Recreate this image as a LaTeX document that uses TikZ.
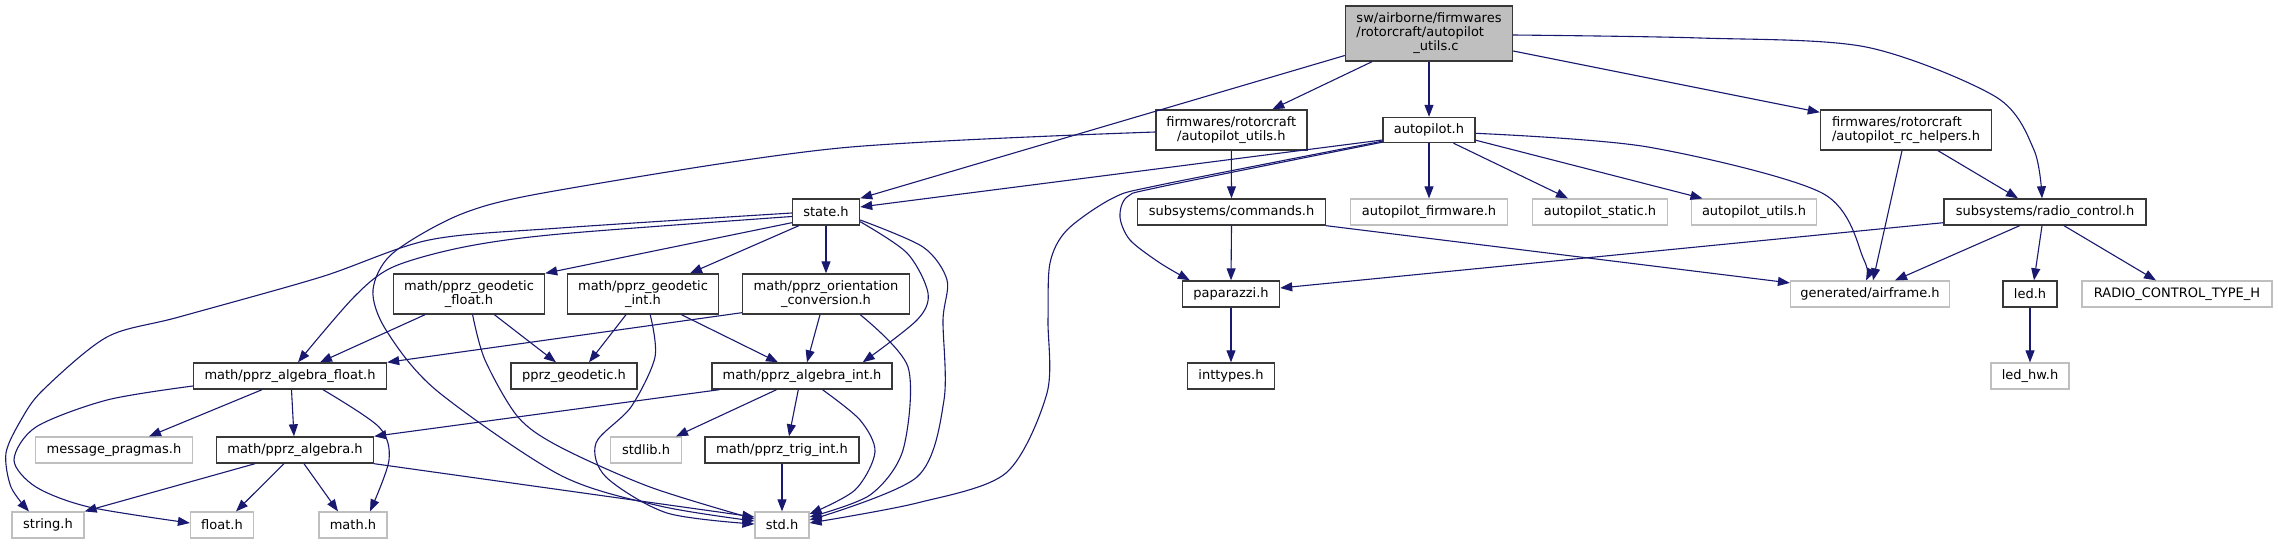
\documentclass[tikz,border=0pt]{standalone}
\usepackage{fontspec}
\setmainfont{DejaVu Sans}
\usetikzlibrary{arrows.meta,calc}
\definecolor{edgec}{HTML}{191970}
\definecolor{nodeb}{HTML}{383838}
\definecolor{greyb}{HTML}{BFBFBF}
\tikzset{
  fnode/.style={draw=nodeb, line width=1.4pt, fill=white, inner sep=0pt,
    minimum height=26pt, font=\fontsize{13}{14}\selectfont, align=center},
  unode/.style={fnode, draw=greyb, line width=1.2pt},
  edge/.style={draw=edgec, line width=1.1pt, -{Triangle[length=12pt,width=9pt]}},
}
\begin{document}
\begin{tikzpicture}[x=1pt,y=-1pt]
\useasboundingbox[fill=white] (0,0) rectangle (2278,544);
% row 0
\node[fnode, fill=greyb, minimum width=167pt, minimum height=55pt, align=left] (root) at (1429,33.5)
  {sw/airborne/firmwares\\/rotorcraft/autopilot\\\hspace*{57pt}\_utils.c};
% row 1
\node[fnode, minimum width=151pt, minimum height=40pt] (fau) at (1231.3,130) {firmwares/rotorcraft\\/autopilot\_utils.h};
\node[fnode, minimum width=92pt, minimum height=25pt] (ap) at (1429,130) {autopilot.h};
\node[fnode, minimum width=171pt, minimum height=40pt, align=left] (rch) at (1906,130) {firmwares/rotorcraft\\/autopilot\_rc\_helpers.h};
% row 2
\node[fnode, minimum width=67pt] (state) at (826,212) {state.h};
\node[fnode, minimum width=188pt] (cmd) at (1231.5,212) {subsystems/commands.h};
\node[unode, minimum width=157pt] (apfw) at (1429,212) {autopilot\_firmware.h};
\node[unode, minimum width=135pt] (apst) at (1600,212) {autopilot\_static.h};
\node[unode, minimum width=125pt] (apu) at (1754,212) {autopilot\_utils.h};
\node[fnode, minimum width=202pt] (rc) at (2045,212) {subsystems/radio\_control.h};
% row 3
\node[fnode, minimum width=151pt, minimum height=40pt] (gf) at (469,294) {math/pprz\_geodetic\\\_float.h};
\node[fnode, minimum width=151pt, minimum height=40pt] (gi) at (643,294) {math/pprz\_geodetic\\\_int.h};
\node[fnode, minimum width=167pt, minimum height=40pt] (oc) at (826,294) {math/pprz\_orientation\\\_conversion.h};
\node[fnode, minimum width=97pt] (pap) at (1231,294) {paparazzi.h};
\node[unode, minimum width=159pt] (af) at (1870,294) {generated/airframe.h};
\node[fnode, minimum width=54pt] (led) at (2030,294) {led.h};
\node[unode, minimum width=190pt] (rct) at (2177,294) {RADIO\_CONTROL\_TYPE\_H};
% row 4
\node[fnode, minimum width=193pt] (alf) at (290,376) {math/pprz\_algebra\_float.h};
\node[fnode, minimum width=126pt] (geo) at (574,376) {pprz\_geodetic.h};
\node[fnode, minimum width=180pt] (ali) at (802,376) {math/pprz\_algebra\_int.h};
\node[fnode, minimum width=87pt] (inty) at (1231,376) {inttypes.h};
\node[unode, minimum width=78pt] (ledhw) at (2030,376) {led\_hw.h};
% row 5
\node[unode, minimum width=157pt] (msg) at (114,450) {message\_pragmas.h};
\node[fnode, minimum width=157pt] (alg) at (295,450) {math/pprz\_algebra.h};
\node[unode, minimum width=71pt] (stdlib) at (646,450) {stdlib.h};
\node[fnode, minimum width=154pt] (trig) at (782,450) {math/pprz\_trig\_int.h};
% row 6
\node[unode, minimum width=72pt] (str) at (48,525) {string.h};
\node[unode, minimum width=63pt] (flt) at (222,525) {float.h};
\node[unode, minimum width=68pt] (mth) at (353,525) {math.h};
\node[unode, minimum width=54pt] (std) at (782,525) {std.h};

% ---- edges, right part
\draw[edge] ($(root.west)+(0,22)$) -- (state.north east);
\draw[edge] ($(root.south)+(-57,0)$) -- ($(fau.north)+(41,0)$);
\draw[edge] (root.south) -- (ap.north);
\draw[edge] ($(root.east)+(0,17.5)$) -- ($(rch.north west)+(0,3)$);
\draw[edge] plot[smooth] coordinates {($(root.east)+(0,1.5)$) (1700,38) (1866,47) (1996,97) (2034,150) ($(rc.north)+(-3,0)$)};
\draw[edge] (fau.south) -- (cmd.north);
\draw[edge] plot[smooth] coordinates {($(fau.west)+(0,2)$) (840,148) (560,190) (464,213) (393,253) (373,290) (386,330) (436,390) (560,475) (660,506) ($(std.west)+(0,-4)$)};
\draw[edge] ($(ap.west)+(0,10)$) -- ($(state.east)+(0,-5)$);
\draw[edge] plot[smooth] coordinates {($(ap.south west)+(0,-1)$) (1160,187) (1127,197) (1120,217) (1130,240) (1160,263) ($(pap.north west)+(8,0)$)};
\draw[edge] plot[smooth] coordinates {($(ap.south west)+(0,-2)$) (1160,185) (1113,198) (1067,230) (1050,263) (1048,320) (1047,393) (1006,473) (917,503) ($(std.east)+(0,-2)$)};
\draw[edge] (ap.south) -- (apfw.north);
\draw[edge] ($(ap.south)+(24.5,0)$) -- ($(apst.north)+(-32,0)$);
\draw[edge] ($(ap.south east)+(0,-3)$) -- ($(apu.north)+(-51.5,0)$);
\draw[edge] plot[smooth] coordinates {($(ap.east)+(0,3.3)$) (1648,147) (1822,193) (1864,260) ($(af.north)+(-4,0)$)};
\draw[edge] ($(rch.south)+(-4,0)$) -- ($(af.north)+(3,0)$);
\draw[edge] ($(rch.south)+(32,0)$) -- ($(rc.north)+(-27,0)$);
\draw[edge] ($(rc.west)+(0,10.7)$) -- ($(pap.east)+(0,-6)$);
\draw[edge] ($(rc.south)+(-25.4,0)$) -- ($(af.north)+(25,0)$);
\draw[edge] ($(rc.south)+(-3,0)$) -- ($(led.north)+(4,0)$);
\draw[edge] ($(rc.south)+(19,0)$) -- ($(rct.north)+(-21,0)$);
\draw[edge] (cmd.south) -- (pap.north);
\draw[edge] (cmd.south east) -- ($(af.north west)+(0,2.5)$);
\draw[edge] (pap.south) -- (inty.north);
\draw[edge] (led.south) -- (ledhw.north);

% ---- edges, left part
\draw[edge] plot[smooth] coordinates {($(state.west)+(0,1)$) (560,228) (429,240) (321,277) (179,317) (107,337) (43,390) (21,420) (6,453) (11,487) ($(str.north)+(-19,0)$)};
\draw[edge] plot[smooth] coordinates {($(state.west)+(0,4.5)$) (560,234) (464,247) (393,267) (354,297) ($(alf.north)+(8,0)$)};
\draw[edge] ($(state.south west)+(0,-3)$) -- (gf.north east);
\draw[edge] ($(state.south west)+(7,0)$) -- ($(gi.north)+(47,0)$);
\draw[edge] (state.south) -- (oc.north);
\draw[edge] plot[smooth] coordinates {($(state.east)+(0,9.7)$) (907,253) (928,293) (917,320) ($(ali.north east)+(-30,0)$)};
\draw[edge] plot[smooth] coordinates {($(state.east)+(0,8)$) (923,247) (947,280) (943,320) (944,400) (917,477) ($(std.east)+(0,-5)$)};
\draw[edge] ($(gf.south)+(-44,0)$) -- ($(alf.north)+(30,0)$);
\draw[edge] ($(gf.south)+(25.4,0)$) -- ($(geo.north)+(-18,0)$);
\draw[edge] plot[smooth] coordinates {($(gf.south)+(3.6,0)$) (485,360) (518,417) (560,447) (650,487) ($(std.west)+(0,-6)$)};
\draw[edge] ($(gi.south)+(-17,0)$) -- ($(geo.north)+(15,0)$);
\draw[edge] ($(gi.south)+(38.5,0)$) -- ($(ali.north)+(-24,0)$);
\draw[edge] plot[smooth] coordinates {($(gi.south)+(7.2,0)$) (655,357) (631,407) (596,443) (606,477) (667,513) ($(std.west)+(0,-1)$)};
\draw[edge] ($(oc.south west)+(0,-2)$) -- (alf.north east);
\draw[edge] ($(oc.south)+(-6,0)$) -- ($(ali.north)+(5,0)$);
\draw[edge] plot[smooth] coordinates {($(oc.south east)+(-50,0)$) (908,367) (903,450) (870,495) ($(std.east)+(0,-8)$)};
\draw[edge] ($(alf.south)+(-28,0)$) -- ($(msg.north)+(35,0)$);
\draw[edge] ($(alf.south)+(1.5,0)$) -- ($(alg.north)+(-1,0)$);
\draw[edge] plot[smooth] coordinates {($(alf.south)+(33,0)$) (379,427) (389,460) ($(mth.north)+(17,0)$)};
\draw[edge] plot[smooth] coordinates {($(alf.west)+(0,10)$) (107,400) (36,427) (14,460) (36,487) (89,507) ($(flt.west)+(0,-2)$)};
\draw[edge] ($(ali.south west)+(8,0)$) -- (alg.north east);
\draw[edge] ($(ali.south)+(-25.5,0)$) -- ($(stdlib.north)+(30,0)$);
\draw[edge] ($(ali.south)+(-3.7,0)$) -- ($(trig.north)+(7,0)$);
\draw[edge] plot[smooth] coordinates {($(ali.south)+(20.5,0)$) (860,420) (875,452) (855,490) ($(std.east)+(0,-11)$)};
\draw[edge] ($(alg.south)+(-40,0)$) -- (str.north east);
\draw[edge] ($(alg.south)+(-11,0)$) -- ($(flt.north)+(14,0)$);
\draw[edge] ($(alg.south)+(9,0)$) -- ($(mth.north)+(-15,0)$);
\draw[edge] (alg.south east) -- ($(std.west)+(0,-8)$);
\draw[edge] (trig.south) -- (std.north);
\end{tikzpicture}
\end{document}
